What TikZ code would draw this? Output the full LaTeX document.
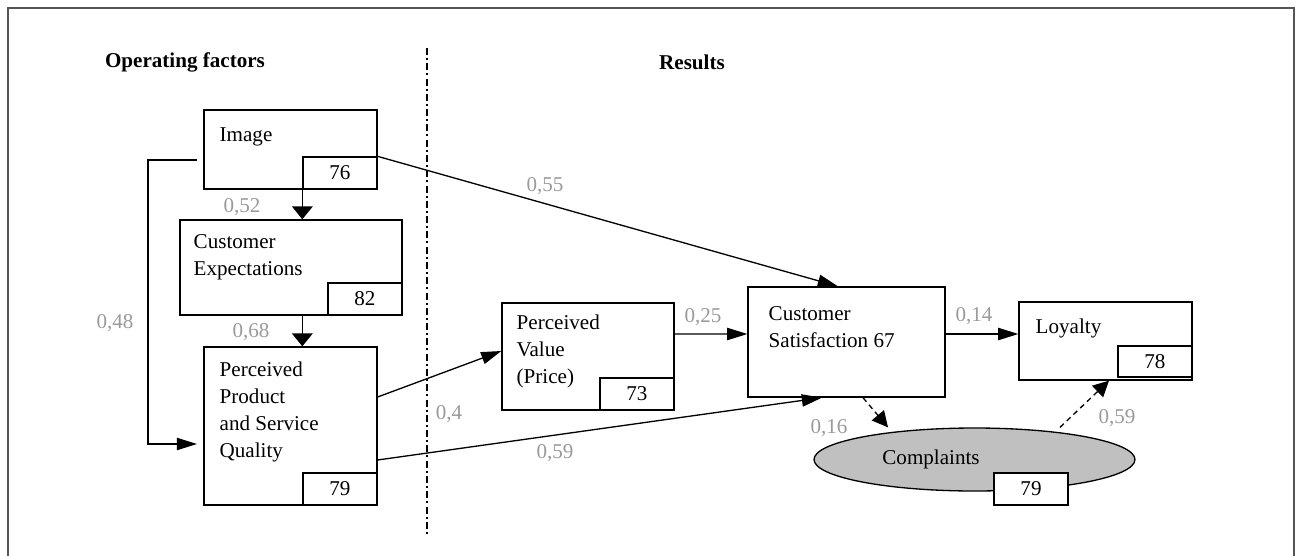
\documentclass[tikz,border=0pt]{standalone}
\usepackage{fontspec}
\setmainfont{Liberation Serif}
\usetikzlibrary{positioning,arrows.meta,shapes.geometric}
\definecolor{coefgray}{HTML}{9A9A9A}
\definecolor{ovalgray}{HTML}{C0C0C0}
\definecolor{framegray}{HTML}{555555}
\tikzset{
  box/.style={draw, line width=.75pt, inner sep=0pt},
  valbox/.style={draw, line width=.75pt, fill=white, minimum width=1.48cm, minimum height=.64cm, inner sep=0pt, anchor=south east},
  boxtext/.style={inner sep=0pt, align=left},
  coef/.style={text=coefgray},
  head/.style={font=\fontsize{12}{15.4}\selectfont\bfseries},
  arr/.style={-{Triangle[length=11.5pt,width=7pt]}, line width=.75pt},
  varr/.style={-{Triangle[length=7.4pt,width=11.8pt]}, line width=.75pt},
  darr/.style={-{Triangle[length=9pt,width=9pt]}, line width=.75pt, dash pattern=on 3pt off 2.3pt},
}
\begin{document}
\begin{tikzpicture}[x=.02cm, y=-.02cm, font=\fontsize{12}{15.4}\selectfont]
\useasboundingbox (0,0) rectangle (1296,555);
\draw[framegray, line width=.8pt] (8,556) -- (8,8) -- (1294,8) -- (1294,556);

\node[head] (opf) at (185,62) {Operating factors};
\node[head] (res) at (692,62) {Results};
\draw[line width=.75pt, dash pattern=on 4pt off 1.7pt on 1.1pt off 1.9pt] (427,48) -- (427,537);

\node[box, minimum width=3.46cm, minimum height=1.58cm] (img) at (290.5,149.5) {};
\node[box, minimum width=4.44cm, minimum height=1.9cm] (exp) at (291,267.5) {};
\node[box, minimum width=3.46cm, minimum height=3.16cm] (qual) at (290.5,426) {};
\node[box, minimum width=3.44cm, minimum height=2.14cm] (val) at (588,356.5) {};
\node[box, minimum width=3.94cm, minimum height=2.2cm] (sat) at (846.5,342) {};
\node[box, minimum width=3.46cm, minimum height=1.56cm] (loy) at (1105.5,341) {};
\node[box, ellipse, fill=ovalgray, minimum width=6.42cm, minimum height=1.26cm] (compl) at (974.5,459.5) {};

\node[boxtext, below right=.36cm and .32cm of img.north west] (img-t) {Image};
\node[boxtext, below right=.3cm and .28cm of exp.north west] (exp-t) {Customer\\Expectations};
\node[boxtext, below right=.3cm and .32cm of qual.north west] (qual-t) {Perceived\\Product\\and Service\\Quality};
\node[boxtext, below right=.24cm and .3cm of val.north west] (val-t) {Perceived\\Value\\(Price)};
\node[boxtext, below right=.39cm and .42cm of sat.north west] (sat-t) {Customer\\Satisfaction 67};
\node[boxtext, below right=.34cm and .34cm of loy.north west] (loy-t) {Loyalty};
\node (compl-t) at ([xshift=-.87cm]compl.center) {Complaints};

\node[valbox] (img-v) at (img.south east) {76};
\node[valbox] (exp-v) at (exp.south east) {82};
\node[valbox] (qual-v) at (qual.south east) {79};
\node[valbox] (val-v) at (val.south east) {73};
\node[valbox, minimum height=.62cm] (loy-v) at ([yshift=.06cm]loy.south east) {78};
\node[valbox, anchor=center] (compl-v) at (1031,489) {79};

\coordinate (lp-in) at (197,160);
\coordinate (lp-out) at (197,444);
\draw[arr] (lp-in) -- ++(-49,0) |- (lp-out);
\draw[varr] (img-v.north west) -- (img-v.north west |- exp.north);
\draw[varr] (exp.south -| qual-v.west) -- (qual.north -| qual-v.west);
\draw[arr] (img-v.north east) -- ([xshift=-.17cm]sat.north);
\draw[arr] ([yshift=.58cm]qual.east) -- ([yshift=.11cm]val.west);
\draw[arr] ([yshift=-.68cm]qual.east) -- ([xshift=-.49cm]sat.south);
\draw[arr] ([yshift=.45cm]val.east) -- ([yshift=.16cm]sat.west);
\draw[arr] ([yshift=.16cm]sat.east) -- ([yshift=.14cm]loy.west);
\draw[darr] ([xshift=.33cm]sat.south) -- ([xshift=-1.73cm]compl.north);
\draw[darr] ([xshift=1.71cm]compl.north) -- ([xshift=.07cm]loy.south);

\node[coef] (c52) at (242,207) {0,52};
\node[coef] (c68) at (251,332) {0,68};
\node[coef] (c48) at (115,323) {0,48};
\node[coef] (c55) at (545,186) {0,55};
\node[coef] (c4) at (449,414) {0,4};
\node[coef] (c59a) at (555,453) {0,59};
\node[coef] (c25) at (703,317) {0,25};
\node[coef] (c14) at (974,316) {0,14};
\node[coef] (c16) at (829,428) {0,16};
\node[coef] (c59b) at (1117,418) {0,59};
\end{tikzpicture}
\end{document}
